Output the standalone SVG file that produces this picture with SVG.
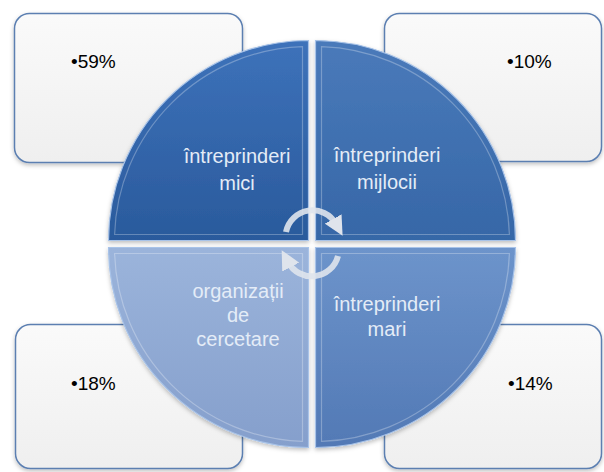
<svg xmlns="http://www.w3.org/2000/svg" width="604" height="472" viewBox="0 0 604 472">
  <defs>
    <linearGradient id="gBox" x1="0" y1="0" x2="0" y2="1">
      <stop offset="0" stop-color="#fafafa"/>
      <stop offset="1" stop-color="#efefef"/>
    </linearGradient>
    <linearGradient id="gTL" x1="0" y1="0" x2="0" y2="1">
      <stop offset="0" stop-color="#3d72ba"/>
      <stop offset="1" stop-color="#2a5a9c"/>
    </linearGradient>
    <linearGradient id="gTR" x1="0" y1="0" x2="0" y2="1">
      <stop offset="0" stop-color="#4a7aba"/>
      <stop offset="1" stop-color="#3667a7"/>
    </linearGradient>
    <linearGradient id="gBR" x1="0" y1="0" x2="0" y2="1">
      <stop offset="0" stop-color="#6d94cb"/>
      <stop offset="1" stop-color="#5279b5"/>
    </linearGradient>
    <linearGradient id="gBL" x1="0" y1="0" x2="0" y2="1">
      <stop offset="0" stop-color="#9bb4db"/>
      <stop offset="1" stop-color="#859fcc"/>
    </linearGradient>
    <filter id="shadow" x="-10%" y="-10%" width="120%" height="125%">
      <feDropShadow dx="0" dy="2" stdDeviation="2" flood-color="#000" flood-opacity="0.25"/>
    </filter>
    <marker id="ah" viewBox="0 0 10 10" refX="3" refY="5" markerWidth="3.2" markerHeight="3.2" orient="auto" markerUnits="strokeWidth">
      <path d="M0,0 L10,5 L0,10 Z" fill="#dfe4ec"/>
    </marker>
    <style>
      .box { fill: url(#gBox); stroke: #5b7fb1; stroke-width: 1.5; filter: url(#shadow); }
      .pct { font-family: "Liberation Sans", Arial, sans-serif; font-size: 19px; fill: #000; }
      .q { stroke: #a8c3e8; stroke-width: 1.2; filter: url(#shadow); }
      .bevel { fill: none; stroke: #ffffff; stroke-opacity: 0.28; stroke-width: 1.2; }
      .qt { font-family: "Liberation Sans", Arial, sans-serif; font-size: 20px; fill: #e4ecf7; text-anchor: middle; }
      .arc { fill: none; stroke: #dfe4ec; stroke-width: 6; stroke-opacity: 0.9; }
    </style>
  </defs>

  <g id="box-tl">
    <rect class="box" x="14.5" y="13.5" width="228" height="149" rx="15"/>
    <text class="pct" x="71" y="68">•59%</text>
  </g>
  <g id="box-tr">
    <rect class="box" x="384.5" y="13.5" width="217" height="148" rx="15"/>
    <text class="pct" x="507" y="68">•10%</text>
  </g>
  <g id="box-bl">
    <rect class="box" x="15.5" y="324.5" width="227" height="144" rx="15"/>
    <text class="pct" x="71" y="390">•18%</text>
  </g>
  <g id="box-br">
    <rect class="box" x="384.5" y="324.5" width="217" height="144" rx="15"/>
    <text class="pct" x="508" y="390">•14%</text>
  </g>

  <g id="q-tl">
    <path class="q" fill="url(#gTL)" d="M308.5,240.5 H108.5 A200,200 0 0 1 308.5,40.5 Z"/>
    <path class="bevel" d="M302.5,234.5 H114.6 A194,194 0 0 1 302.5,46.6 Z"/>
    <text class="qt" x="237" y="163">întreprinderi</text>
    <text class="qt" x="237" y="190">mici</text>
  </g>
  <g id="q-tr">
    <path class="q" fill="url(#gTR)" d="M315.5,240.5 V40.5 A200,200 0 0 1 515.5,240.5 Z"/>
    <path class="bevel" d="M321.5,234.5 V46.6 A194,194 0 0 1 509.4,234.5 Z"/>
    <text class="qt" x="387" y="162">întreprinderi</text>
    <text class="qt" x="387" y="189">mijlocii</text>
  </g>
  <g id="q-br">
    <path class="q" fill="url(#gBR)" d="M315.5,247.5 H515.5 A200,200 0 0 1 315.5,447.5 Z"/>
    <path class="bevel" d="M321.5,253.5 H509.4 A194,194 0 0 1 321.5,441.4 Z"/>
    <text class="qt" x="387" y="311">întreprinderi</text>
    <text class="qt" x="387" y="336">mari</text>
  </g>
  <g id="q-bl">
    <path class="q" fill="url(#gBL)" d="M308.5,247.5 V447.5 A200,200 0 0 1 108.5,247.5 Z"/>
    <path class="bevel" d="M302.5,253.5 V441.4 A194,194 0 0 1 114.6,253.5 Z"/>
    <text class="qt" x="238" y="298">organizații</text>
    <text class="qt" x="238" y="322">de</text>
    <text class="qt" x="238" y="346">cercetare</text>
  </g>

  <g id="connectors">
    <path class="arc" d="M286,232 A27,27 0 0 1 336,224" marker-end="url(#ah)"/>
    <path class="arc" stroke-opacity="0.6" d="M338,256 A27,27 0 0 1 288,262" marker-end="url(#ah)"/>
  </g>
</svg>
